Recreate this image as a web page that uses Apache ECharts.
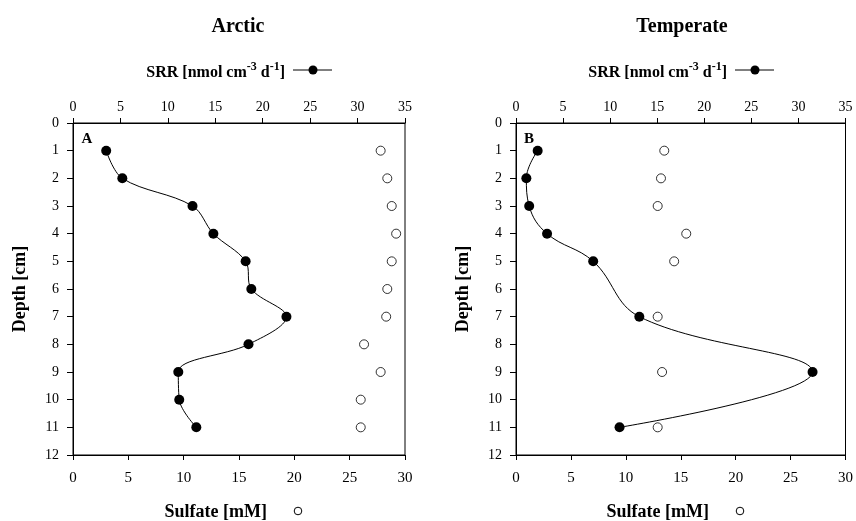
<!DOCTYPE html>
<html>
<head>
<meta charset="utf-8">
<script src="https://cdn.jsdelivr.net/npm/echarts@6/dist/echarts.min.js"></script>
<style>html,body{margin:0;padding:0;background:#fff}#c{width:856px;height:521px}</style>
</head>
<body>
<div id="c"></div>
<script>
// Panel A (Arctic)
var depthA = [1, 2, 3, 4, 5, 6, 7, 8, 9, 10, 11];
var srrA = [3.5, 5.2, 12.6, 14.8, 18.2, 18.8, 22.5, 18.5, 11.1, 11.2, 13.0];
var sulfA = [27.8, 28.4, 28.8, 29.2, 28.8, 28.4, 28.3, 26.3, 27.8, 26.0, 26.0];
// Panel B (Temperate)
var depthB = [1, 2, 3, 4, 5, 7, 9, 11];
var srrB = [2.3, 1.1, 1.4, 3.3, 8.2, 13.1, 31.5, 11.0];
var sulfB = [13.5, 13.2, 12.9, 15.5, 14.4, 12.9, 13.3, 12.9];
var titles = ['Arctic', 'Temperate'];
var panelLetters = ['A', 'B'];

var FONT = '"Liberation Serif", "Times New Roman", serif';
var chart = echarts.init(document.getElementById('c'));

function pairs(xs, ys) { return xs.map(function (x, i) { return [x, ys[i]]; }); }

var grids = [
  { left: 73, top: 123, width: 332, height: 332 },
  { left: 516, top: 123, width: 332, height: 332 }
];

var xAxes = [], yAxes = [], series = [], graphics = [];
grids.forEach(function (g, i) {
  g.show = true; g.borderColor = '#000'; g.borderWidth = 1; g.backgroundColor = 'transparent';
  xAxes.push({
    gridIndex: i, type: 'value', position: 'top', min: 0, max: 35, interval: 5,
    axisLine: { show: true, onZero: false, lineStyle: { color: '#000', width: 1 } },
    axisTick: { show: true, length: 5, lineStyle: { color: '#000' } },
    axisLabel: { color: '#000', fontFamily: FONT, fontSize: 14, margin: 9 },
    splitLine: { show: false }
  });
  xAxes.push({
    gridIndex: i, type: 'value', position: 'bottom', min: 0, max: 30, interval: 5,
    axisLine: { show: true, onZero: false, lineStyle: { color: '#000', width: 1 } },
    axisTick: { show: true, length: 5, lineStyle: { color: '#000' } },
    axisLabel: { color: '#000', fontFamily: FONT, fontSize: 15, margin: 16 },
    splitLine: { show: false }
  });
  yAxes.push({
    gridIndex: i, type: 'value', inverse: true, min: 0, max: 12, interval: 1,
    name: 'Depth [cm]', nameLocation: 'middle', nameGap: 44,
    nameTextStyle: { color: '#000', fontFamily: FONT, fontSize: 18, fontWeight: 'bold' },
    axisLine: { show: true, onZero: false, lineStyle: { color: '#000', width: 1 } },
    axisTick: { show: true, length: 6, lineStyle: { color: '#000' } },
    axisLabel: { color: '#000', fontFamily: FONT, fontSize: 14, margin: 14 },
    splitLine: { show: false }
  });
});

series.push({
  name: 'SRR A', type: 'line', xAxisIndex: 0, yAxisIndex: 0, smooth: 0.35,
  data: pairs(srrA, depthA), symbol: 'circle', symbolSize: 10,
  itemStyle: { color: '#000' }, lineStyle: { color: '#000', width: 1 }
});
series.push({
  name: 'Sulfate A', type: 'scatter', xAxisIndex: 1, yAxisIndex: 0,
  data: pairs(sulfA, depthA), symbol: 'circle', symbolSize: 9,
  itemStyle: { color: '#fff', borderColor: '#000', borderWidth: 1 }
});
series.push({
  name: 'SRR B', type: 'line', xAxisIndex: 2, yAxisIndex: 1, smooth: 0.4,
  data: pairs(srrB, depthB), symbol: 'circle', symbolSize: 10,
  itemStyle: { color: '#000' }, lineStyle: { color: '#000', width: 1 }
});
series.push({
  name: 'Sulfate B', type: 'scatter', xAxisIndex: 3, yAxisIndex: 1,
  data: pairs(sulfB, depthB), symbol: 'circle', symbolSize: 9,
  itemStyle: { color: '#fff', borderColor: '#000', borderWidth: 1 }
});

var centers = [238, 682];
var offsets = [0, 442];
titles.forEach(function (t, i) {
  var off = offsets[i];
  graphics.push({ type: 'text', x: centers[i], y: 27,
    style: { text: t, font: 'bold 20px ' + FONT, fill: '#000', align: 'center', verticalAlign: 'middle' } });
  // SRR legend
  graphics.push({ type: 'text', x: 285 + off, y: 71,
    style: {
      text: '{b|SRR [nmol cm}{s|-3}{b| d}{s|-1}{b|]}', align: 'right', verticalAlign: 'middle',
      rich: {
        b: { font: 'bold 16px ' + FONT, fill: '#000', verticalAlign: 'bottom', lineHeight: 20 },
        s: { font: 'bold 12px ' + FONT, fill: '#000', verticalAlign: 'top', lineHeight: 20, padding: [0, 0, 8, 0] }
      }
    } });
  graphics.push({ type: 'line', shape: { x1: 293 + off, y1: 70, x2: 332 + off, y2: 70 }, style: { stroke: '#000', lineWidth: 1 } });
  graphics.push({ type: 'circle', shape: { cx: 313 + off, cy: 70, r: 4.5 }, style: { fill: '#000' } });
  // Sulfate legend
  graphics.push({ type: 'text', x: 267 + off, y: 512,
    style: { text: 'Sulfate [mM]', font: 'bold 18px ' + FONT, fill: '#000', align: 'right', verticalAlign: 'middle' } });
  graphics.push({ type: 'circle', shape: { cx: 298 + off, cy: 511, r: 3.8 }, style: { fill: '#fff', stroke: '#000', lineWidth: 1 } });
  // Panel letter
  graphics.push({ type: 'text', x: 87 + off, y: 139,
    style: { text: panelLetters[i], font: 'bold 15px ' + FONT, fill: '#000', align: 'center', verticalAlign: 'middle' } });
});

chart.setOption({
  animation: false,
  backgroundColor: '#fff',
  grid: grids,
  xAxis: xAxes,
  yAxis: yAxes,
  series: series,
  graphic: graphics
});
</script>
</body>
</html>
